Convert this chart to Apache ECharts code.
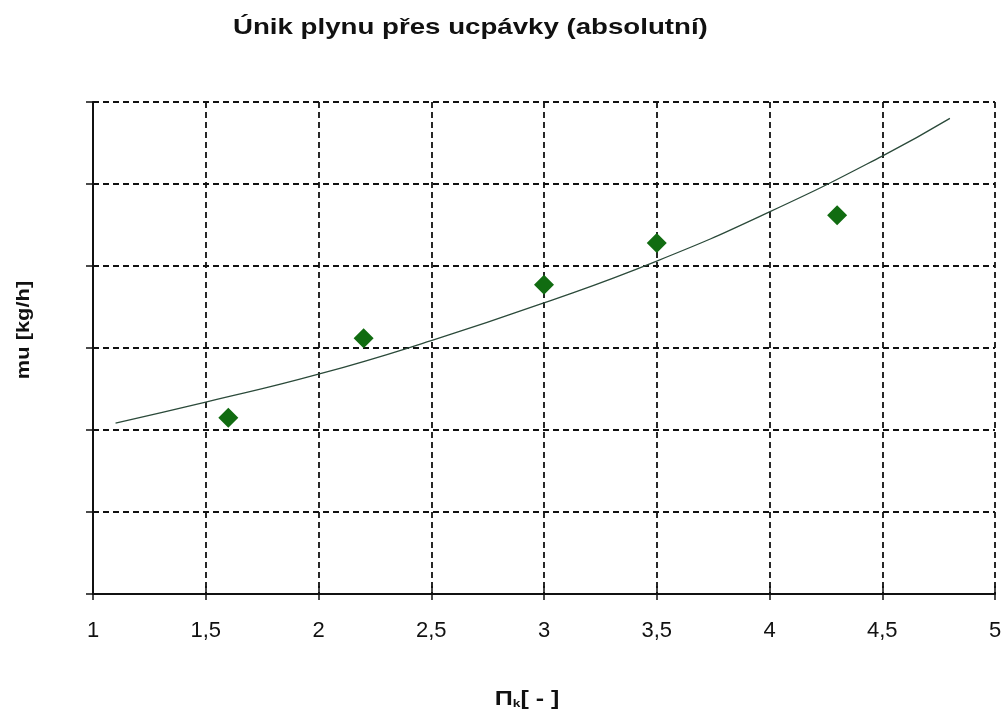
<!DOCTYPE html>
<html><head><meta charset="utf-8">
<script src="https://cdn.jsdelivr.net/npm/echarts@6/dist/echarts.min.js"></script>
<style>html,body{margin:0;padding:0;background:#fff}#c{width:1008px;height:720px}</style>
</head><body><div id="c"></div>
<script>
const titleText = 'Únik plynu přes ucpávky (absolutní)';
const yName = 'mu [kg/h]';
const pointX = [1.6, 2.2, 3.0, 3.5, 4.3];
const pointY = [2.15, 3.12, 3.77, 4.28, 4.62];
const curveX = [1.1, 1.5, 2.0, 2.5, 3.0, 3.5, 4.0, 4.5, 4.8];
const curveY = [2.085, 2.34, 2.68, 3.09, 3.55, 4.06, 4.66, 5.34, 5.80];

const font = '"Liberation Sans", Arial, sans-serif';
const gridLine = {show: true, lineStyle: {color: '#111', width: 1.8, type: [6, 4]}};
const chart = echarts.init(document.getElementById('c'), null, {renderer: 'canvas'});
chart.setOption({
  animation: false,
  backgroundColor: '#fff',
  grid: {left: 93, right: 13, top: 102, bottom: 126},
  xAxis: [{
    type: 'value', min: 1, max: 5, interval: 0.5,
    axisLine: {show: true, onZero: false, lineStyle: {color: '#111', width: 2}},
    axisTick: {show: true, inside: false, length: 6, lineStyle: {color: '#111', width: 1.5}},
    axisLabel: {margin: 26, fontFamily: font, fontSize: 22, color: '#111',
      formatter: v => String(v).replace('.', ',')},
    splitLine: gridLine
  }, {
    type: 'value', min: 1, max: 5, interval: 0.5, position: 'bottom',
    axisLine: {show: false},
    axisTick: {show: true, inside: true, length: 8, lineStyle: {color: '#111', width: 1.5}},
    axisLabel: {show: false}, splitLine: {show: false}
  }],
  yAxis: [{
    type: 'value', min: 0, max: 6, interval: 1,
    axisLine: {show: true, onZero: false, lineStyle: {color: '#111', width: 2}},
    axisTick: {show: true, inside: false, length: 7, lineStyle: {color: '#111', width: 1.5}},
    axisLabel: {show: false},
    splitLine: gridLine
  }],
  graphic: [{
    type: 'text', x: 233, y: 17, scaleX: 1.257, originX: 0, originY: 0,
    style: {text: titleText, font: 'bold 22px ' + font, fill: '#111', textAlign: 'left', textVerticalAlign: 'top'}
  }, {
    type: 'text', x: 24, y: 330, rotation: Math.PI / 2, scaleX: 1.15,
    style: {text: yName, font: 'bold 19px ' + font, fill: '#111', textAlign: 'center', textVerticalAlign: 'middle'}
  }, {
    type: 'text', x: 527, y: 699, scaleX: 1.25,
    style: {text: '{a|Π}{s|k}{a|[ - ]}', fill: '#111', textAlign: 'center', textVerticalAlign: 'middle',
      rich: {a: {fontFamily: font, fontSize: 20, fontWeight: 'bold', color: '#111'},
             s: {fontFamily: font, fontSize: 11, fontWeight: 'bold', color: '#111', padding: [9, 0, 0, 0]}}}
  }],
  series: [{
    type: 'line', smooth: true, showSymbol: false, symbol: 'none',
    lineStyle: {color: '#2b4a3a', width: 1.3},
    data: curveX.map((x, i) => [x, curveY[i]]), z: 3
  }, {
    type: 'scatter', symbol: 'diamond', symbolSize: 20,
    itemStyle: {color: '#116c11', opacity: 1},
    data: pointX.map((x, i) => [x, pointY[i]]), z: 4
  }]
});
</script></body></html>
